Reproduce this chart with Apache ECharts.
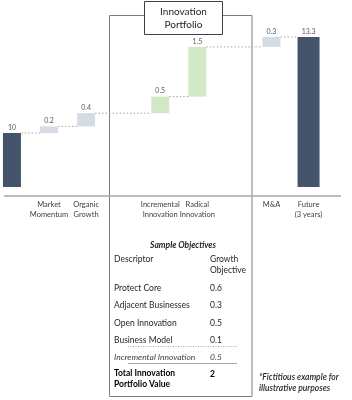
<!DOCTYPE html>
<html>
<head>
<meta charset="utf-8">
<script src="https://cdn.jsdelivr.net/npm/echarts@6/dist/echarts.min.js"></script>
<style>
  html, body { margin: 0; padding: 0; background: #fff; }
  #chart { width: 352px; height: 400px; }
</style>
</head>
<body>
<div id="chart"></div>
<script>
// category slots, the blank ones are spacer columns between groups
const categories = ['', 'Market\nMomentum', 'Organic\nGrowth', '', 'Incremental\nInnovation', 'Radical\nInnovation', '', 'M&A', 'Future\n(3 years)']
// waterfall: starting value then increments (null = spacer or the end column)
const stepValues = [10, 0.2, 0.4, null, 0.5, 1.5, null, 0.3, null]
const stepKinds = ['base', 'core', 'core', null, 'innov', 'innov', null, 'core', null]
const totalIndex = 8
const totalLabel = '13.3'

// side table
const tableTitle = 'Sample Objectives'
const tableHeader = ['Descriptor', 'Growth\nObjective']
const objectiveRows = [
  ['Protect Core', '0.6'],
  ['Adjacent Businesses', '0.3'],
  ['Open Innovation', '0.5'],
  ['Business Model', '0.1']
]
const incrementalRow = ['Incremental Innovation', '0.5']
const totalRow = ['Total Innovation\nPortfolio Value', '2']
const footnote = '*Fictitious example for\nillustrative purposes'
const boxTitle = 'Innovation\nPortfolio'

const colors = { base: '#44546A', core: '#D6DCE5', innov: '#D3E8C7' }
const FONT = 'Lato'

// build waterfall helpers
let running = 0
const baseData = []
const barData = []
const stops = []
categories.forEach(function (c, i) {
  const v = stepValues[i]
  if (v === null) {
    baseData.push('-')
    barData.push('-')
    return
  }
  baseData.push(i === 0 ? '-' : running)
  barData.push({ value: v, itemStyle: { color: colors[stepKinds[i]] } })
  running += v
  stops.push([i, running])
})
const totalData = categories.map(function (c, i) {
  return i === totalIndex ? { value: running, itemStyle: { color: colors.base } } : '-'
})
stops.push([totalIndex, running])

// dotted connectors between consecutive bars
const links = []
for (let k = 0; k < stops.length - 1; k++) {
  links.push([stops[k][0], stops[k + 1][0], stops[k][1]])
}

function txt (text, x, y, extra) {
  return {
    type: 'text', x: x, y: y, z: 10,
    style: Object.assign({
      text: text, fill: '#262626', fontFamily: FONT, fontSize: 8.5,
      verticalAlign: 'middle', lineHeight: 11
    }, extra || {})
  }
}

const graphics = [
  { type: 'rect', z: 1, shape: { x: 109.5, y: 15.5, width: 142.5, height: 381 },
    style: { fill: 'none', stroke: '#7f7f7f', lineWidth: 1 } },
  { type: 'line', z: 2, shape: { x1: 4, y1: 196, x2: 341, y2: 196 },
    style: { stroke: '#a6a6a6', lineWidth: 1.5 } },
  { type: 'rect', z: 5, shape: { x: 144.5, y: 1.5, width: 78, height: 33 },
    style: { fill: '#fff', stroke: '#404040', lineWidth: 1 } },
  txt(boxTitle, 183.5, 18.5, { align: 'center', fontSize: 10, lineHeight: 13 }),
  txt(tableTitle, 183, 245, { align: 'center', fontWeight: 'bold', fontStyle: 'italic' }),
  txt(tableHeader[0], 114, 259),
  txt(tableHeader[1], 210, 265, { lineHeight: 11.5 })
]
objectiveRows.forEach(function (r, i) {
  const y = 288 + i * 17.4
  graphics.push(txt(r[0], 114, y), txt(r[1], 210, y))
})
graphics.push(
  { type: 'line', z: 3, shape: { x1: 128, y1: 346.5, x2: 237, y2: 346.5 },
    style: { stroke: '#a6a6a6', lineWidth: 1, lineDash: [1, 1.5] } },
  txt(incrementalRow[0], 114, 357, { fontStyle: 'italic', fill: '#404040' }),
  txt(incrementalRow[1], 210, 357, { fontStyle: 'italic', fill: '#404040' }),
  { type: 'line', z: 3, shape: { x1: 128, y1: 363.5, x2: 237, y2: 363.5 },
    style: { stroke: '#a6a6a6', lineWidth: 1 } },
  txt(totalRow[0], 114, 379, { fontWeight: 'bold', fill: '#000', lineHeight: 10.5 }),
  txt(totalRow[1], 210, 374, { fontWeight: 'bold', fill: '#000' }),
  txt(footnote, 259, 383, { fontStyle: 'italic', fontWeight: 600, lineHeight: 11.5 })
)

const chart = echarts.init(document.getElementById('chart'))
chart.setOption({
  animation: false,
  textStyle: { fontFamily: FONT },
  grid: { left: -6.6, right: 24.9, top: 37, bottom: 213, outerBoundsMode: 'none' },
  xAxis: [{
    type: 'category',
    data: categories,
    offset: 9,
    axisLine: { show: false },
    axisTick: { show: false },
    axisLabel: { interval: 0, fontSize: 7.5, lineHeight: 10, color: '#404040', margin: 4 }
  }, {
    type: 'category',
    data: categories,
    show: false
  }],
  yAxis: { type: 'value', min: 8.37, max: 12.9, show: false },
  series: [{
    type: 'bar',
    stack: 'w',
    data: baseData,
    barWidth: 18,
    clip: true,
    silent: true,
    itemStyle: { color: 'transparent' }
  }, {
    type: 'bar',
    stack: 'w',
    data: barData,
    barWidth: 18,
    clip: true,
    label: { show: true, position: 'top', distance: 2, fontSize: 7, color: '#595959' }
  }, {
    type: 'bar',
    xAxisIndex: 1,
    data: totalData,
    barWidth: 22,
    clip: true,
    label: { show: true, position: 'top', distance: 2, fontSize: 7, color: '#595959',
      formatter: function () { return totalLabel } }
  }, {
    type: 'custom',
    data: links,
    encode: { x: [0, 1], y: 2 },
    clip: false,
    silent: true,
    z: 3,
    renderItem: function (params, api) {
      const from = api.value(0)
      const to = api.value(1)
      const level = api.value(2)
      const p1 = api.coord([from, level])
      const p2 = api.coord([to, level])
      const h2 = to === totalIndex ? 11 : 9
      return {
        type: 'line',
        shape: { x1: p1[0] + 9, y1: p1[1], x2: p2[0] - h2, y2: p2[1] },
        style: { stroke: '#a6a6a6', lineWidth: 1, lineDash: [1.5, 2] }
      }
    }
  }],
  graphic: graphics
})
</script>
</body>
</html>
